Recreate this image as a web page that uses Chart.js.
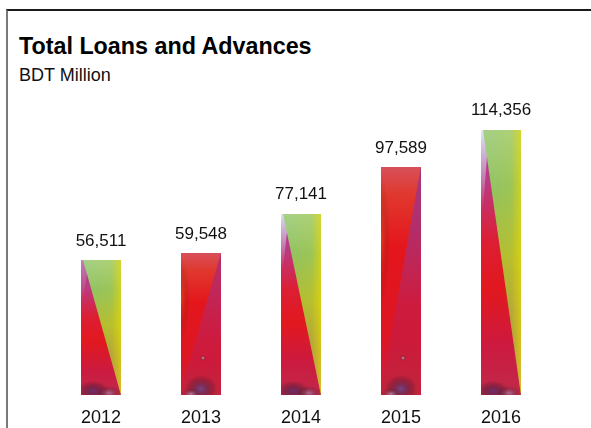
<!DOCTYPE html>
<html>
<head>
<meta charset="utf-8">
<title>Total Loans and Advances</title>
<script src="https://cdn.jsdelivr.net/npm/chart.js@4.4.1/dist/chart.umd.min.js"></script>
<style>
  html, body { margin: 0; padding: 0; background: #fff; }
  body { width: 591px; height: 428px; position: relative; overflow: hidden; font-family: "Liberation Sans", Arial, sans-serif; }
  .frame { position: absolute; left: 6px; top: 9px; width: 700px; height: 500px; border-top: 2px solid #1a1a1a; border-left: 2px solid #7a7a7a; }
  .title { position: absolute; left: 19px; top: 33px; font-size: 23.3px; font-weight: bold; color: #000; white-space: nowrap; }
  .subtitle { position: absolute; left: 19px; top: 65px; font-size: 18px; color: #111; white-space: nowrap; }
  canvas { position: absolute; left: 0; top: 0; }
</style>
</head>
<body>
<div class="frame"></div>
<div class="title">Total Loans and Advances</div>
<div class="subtitle">BDT Million</div>
<canvas id="loansChart" width="591" height="442"></canvas>

<script>
// Total loans and advances, BDT million
const years = ['2012', '2013', '2014', '2015', '2016'];
const loans = [56511, 59548, 77141, 97589, 114356];

// y range (bars run a little below zero down to the axis line)
const yMin = -2700;
const yMax = 127700;

// 'a' = green/yellow wedge on the right, 'b' = red with a crimson wedge
const barStyles = ['a', 'b', 'a', 'b', 'a'];
// how strong the pale streak on the upper left edge is
const paleEdge = [0.35, 0, 0.95, 0, 1];
// how much purple sits in the upper part of the crimson wedge
const wedgePurple = [0, 0.35, 0, 0.8, 0];

const FONT = '"Liberation Sans", Arial, sans-serif';

function vGrad(ctx, top, bottom, stops) {
    const g = ctx.createLinearGradient(0, top, 0, bottom);
    stops.forEach(([p, c]) => g.addColorStop(p, c));
    return g;
}

// soft elliptical smudge
function smudge(ctx, x, y, rx, ry, color) {
    ctx.save();
    ctx.translate(x, y);
    ctx.scale(rx / ry, 1);
    const g = ctx.createRadialGradient(0, 0, 0, 0, 0, ry);
    g.addColorStop(0, color);
    g.addColorStop(1, 'rgba(0,0,0,0)');
    ctx.fillStyle = g;
    ctx.fillRect(-ry, -ry, ry * 2, ry * 2);
    ctx.restore();
}

function paintStyleA(ctx, l, r, t, b, i) {
    const w = r - l, h = b - t;
    // red / magenta body
    ctx.fillStyle = vGrad(ctx, t, b, [
        [0, '#b04890'], [0.2, '#bc3a80'], [0.42, '#dc1e34'],
        [0.6, '#e2181e'], [0.82, '#cc1a40'], [1, '#c02a4a']
    ]);
    ctx.fillRect(l, t, w, h);
    // pale streak along the top-left edge
    ctx.save();
    ctx.beginPath();
    ctx.moveTo(l, t);
    ctx.lineTo(l + w * 0.2, t);
    ctx.lineTo(l + w * 0.05, t + h * 0.3);
    ctx.lineTo(l, t + h * 0.3);
    ctx.closePath();
    ctx.clip();
    ctx.fillStyle = vGrad(ctx, t, t + h * 0.3, [
        [0, `rgba(225,232,245,${paleEdge[i]})`],
        [0.5, `rgba(205,200,230,${paleEdge[i] * 0.6})`],
        [1, 'rgba(200,190,225,0)']
    ]);
    ctx.fillRect(l, t, w, h * 0.3);
    ctx.restore();
    // purple / lavender haze at the foot
    smudge(ctx, l + w * 0.3, b - 4, 16, 10, 'rgba(80,50,120,0.75)');
    smudge(ctx, l + w * 0.7, b - 2, 12, 7, 'rgba(170,150,200,0.6)');

    // green -> yellow wedge
    ctx.save();
    ctx.beginPath();
    ctx.moveTo(l + 2, t);
    ctx.lineTo(r, t);
    ctx.lineTo(r, b);
    ctx.closePath();
    ctx.clip();
    ctx.fillStyle = vGrad(ctx, t, b, [
        [0, '#a4d08a'], [0.22, '#8ec266'], [0.48, '#aebc36'],
        [0.75, '#a89a46'], [1, '#b88070']
    ]);
    ctx.fillRect(l, t, w, h);
    const y = ctx.createLinearGradient(l, 0, r, 0);
    y.addColorStop(0, 'rgba(230,210,0,0)');
    y.addColorStop(0.75, 'rgba(230,210,0,0.15)');
    y.addColorStop(1, 'rgba(238,218,0,0.65)');
    ctx.fillStyle = y;
    ctx.fillRect(l, t, w, h);
    ctx.restore();
}

function paintStyleB(ctx, l, r, t, b, i) {
    const w = r - l, h = b - t;
    // bright red body
    ctx.fillStyle = vGrad(ctx, t, b, [
        [0, '#d8505a'], [0.12, '#e0382e'], [0.35, '#e4161c'],
        [0.75, '#dc1624'], [1, '#c82040']
    ]);
    ctx.fillRect(l, t, w, h);
    // orange glow down the left edge
    smudge(ctx, l, t + h * 0.32, 9, h * 0.28, 'rgba(245,120,30,0.35)');

    // crimson wedge, purplish near the top
    ctx.save();
    ctx.beginPath();
    ctx.moveTo(r, t);
    ctx.lineTo(r, b);
    ctx.lineTo(l, b - 4);
    ctx.closePath();
    ctx.clip();
    ctx.fillStyle = vGrad(ctx, t, b, [
        [0, '#c42a5a'], [0.4, '#cc1e46'], [0.75, '#ce1a3a'], [1, '#c0243e']
    ]);
    ctx.fillRect(l, t, w, h);
    const p = ctx.createLinearGradient(0, t, 0, t + h * 0.6);
    p.addColorStop(0, `rgba(150,60,140,${wedgePurple[i]})`);
    p.addColorStop(1, 'rgba(150,60,140,0)');
    ctx.fillStyle = p;
    ctx.fillRect(l, t, w, h * 0.6);
    ctx.restore();

    // bluish haze at the foot
    smudge(ctx, l + w * 0.5, b - 6, 16, 14, 'rgba(90,80,160,0.75)');
    smudge(ctx, l + w * 0.25, b - 1, 10, 6, 'rgba(200,190,225,0.6)');
    smudge(ctx, l + w * 0.55, b - 37, 3, 3, 'rgba(255,190,205,0.9)');
}

const barTexture = {
    id: 'barTexture',
    afterDatasetsDraw(chart) {
        const ctx = chart.ctx;
        const meta = chart.getDatasetMeta(0);
        meta.data.forEach((bar, i) => {
            const { x, y, base, width } = bar.getProps(['x', 'y', 'base', 'width'], true);
            // snap outward to whole pixels so the plain bar fill never peeks out
            const l = Math.floor(x - width / 2), r = Math.ceil(x + width / 2);
            const t = Math.floor(y), b = Math.ceil(base);
            ctx.save();
            ctx.beginPath();
            ctx.rect(l, t, r - l, b - t);
            ctx.clip();
            if (barStyles[i] === 'a') paintStyleA(ctx, l, r, t, b, i);
            else paintStyleB(ctx, l, r, t, b, i);
            ctx.restore();
        });
    }
};

const valueLabels = {
    id: 'valueLabels',
    afterDraw(chart) {
        const ctx = chart.ctx;
        const meta = chart.getDatasetMeta(0);
        ctx.save();
        ctx.font = '17px ' + FONT;
        ctx.fillStyle = '#111';
        ctx.textAlign = 'center';
        ctx.textBaseline = 'alphabetic';
        meta.data.forEach((bar, i) => {
            ctx.fillText(loans[i].toLocaleString('en-US'), bar.x, bar.y - 15);
        });
        ctx.restore();
    }
};

const ctx = document.getElementById('loansChart').getContext('2d');
new Chart(ctx, {
    type: 'bar',
    data: {
        labels: years,
        datasets: [{
            label: 'Total Loans and Advances',
            data: loans,
            base: yMin,
            backgroundColor: '#d81a2c',
            borderWidth: 0,
            barPercentage: 0.385,
            categoryPercentage: 1
        }]
    },
    options: {
        responsive: false,
        animation: false,
        devicePixelRatio: 1,
        layout: { padding: { left: 51, right: 40, top: 100, bottom: 0 } },
        scales: {
            x: {
                grid: { display: false, drawTicks: false },
                border: { display: false },
                ticks: { color: '#111', font: { family: FONT, size: 18 }, padding: 13 }
            },
            y: { display: false, min: yMin, max: yMax }
        },
        plugins: {
            legend: { display: false },
            tooltip: { enabled: false }
        }
    },
    plugins: [barTexture, valueLabels]
});
</script>
</body>
</html>
